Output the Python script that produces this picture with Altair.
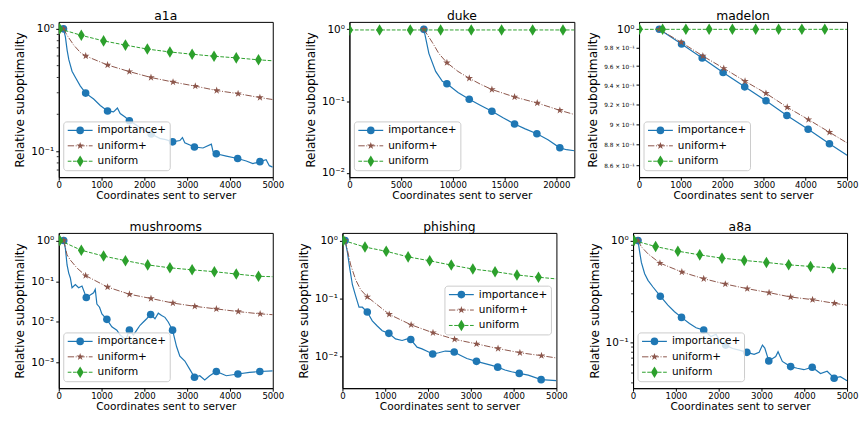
import math
import pandas as pd
import altair as alt

FONT = "DejaVu Sans"
NAMES = ["importance+", "uniform+", "uniform"]
COLORS = ["#1f77b4", "#8c564b", "#2ca02c"]

# ---------------- data ----------------
# a1a
A1A_IMP_X = [110, 155, 195, 235, 310, 390, 505, 628, 815, 970, 1140, 1280, 1370, 1435, 1550, 1650, 1820, 1980, 2160, 2360, 2500, 2660, 2830, 2890, 2945, 3170, 3370, 3565, 3605, 3680, 3915, 4180, 4380, 4535, 4700, 4845, 4920, 5000]
A1A_IMP_Y = [1.0, 0.86, 0.67, 0.56, 0.45, 0.40, 0.34, 0.298, 0.267, 0.236, 0.213, 0.209, 0.225, 0.203, 0.19, 0.177, 0.163, 0.149, 0.138, 0.127, 0.124, 0.119, 0.122, 0.129, 0.117, 0.108, 0.106, 0.114, 0.099, 0.095, 0.091, 0.087, 0.083, 0.079, 0.082, 0.085, 0.076, 0.074]
A1A_IMP_M = [110, 628, 1140, 1650, 2160, 2660, 3170, 3680, 4180, 4700]
A1A_UP_X = [110, 195, 350, 505, 630, 1140, 1650, 2155, 2670, 3190, 3690, 4190, 4700, 5000]
A1A_UP_Y = [1.0, 0.885, 0.736, 0.64, 0.60, 0.506, 0.447, 0.40, 0.367, 0.34, 0.313, 0.295, 0.274, 0.264]
A1A_UP_M = [110, 630, 1140, 1650, 2155, 2670, 3190, 3690, 4190, 4700]
A1A_U_X = [20, 527, 1047, 1558, 2070, 2597, 3116, 3628, 4147, 4667, 5000]
A1A_U_Y = [1.0, 0.885, 0.797, 0.736, 0.683, 0.647, 0.62, 0.597, 0.579, 0.558, 0.548]
A1A_U_M = [20, 527, 1047, 1558, 2070, 2597, 3116, 3628, 4147, 4667]

# duke
DUKE_IMP_X = [7200, 7690, 8340, 8990, 9430, 10500, 11590, 12700, 13780, 14900, 15970, 17000, 18130, 19200, 20350, 21000, 21750]
DUKE_IMP_Y = [1.0, 0.459, 0.259, 0.189, 0.174, 0.132, 0.106, 0.087, 0.072, 0.058, 0.048, 0.041, 0.035, 0.029, 0.0223, 0.021, 0.0203]
DUKE_IMP_M = [7200, 9430, 11590, 13780, 15970, 18130, 20350]
DUKE_UP_X = [7200, 8010, 8660, 9430, 10500, 11590, 12700, 13780, 15970, 18160, 20350, 21750]
DUKE_UP_Y = [1.0, 0.66, 0.458, 0.343, 0.259, 0.208, 0.171, 0.145, 0.114, 0.094, 0.0743, 0.065]
DUKE_UP_M = [7200, 9430, 11590, 13780, 15970, 18160, 20350]
DUKE_U_X = [20, 2918, 5884, 8818, 11784, 14717, 17716, 20650, 21750]
DUKE_U_Y = [0.98, 0.98, 0.98, 0.98, 0.98, 0.98, 0.98, 0.98, 0.98]
DUKE_U_M = [20, 2918, 5884, 8818, 11784, 14717, 17716, 20650]

# madelon
MAD_IMP_X = [487, 1022, 1518, 2021, 2540, 3051, 3554, 4065, 4577, 5000]
MAD_IMP_Y = [1.0, 0.9839, 0.9687, 0.9532, 0.9381, 0.9237, 0.9088, 0.8949, 0.8806, 0.8694]
MAD_IMP_M = [487, 1022, 1518, 2021, 2540, 3051, 3554, 4065, 4577]
MAD_UP_X = [487, 1014, 1534, 2037, 2548, 3051, 3562, 4073, 4577, 5000]
MAD_UP_Y = [1.0, 0.9857, 0.9708, 0.9576, 0.944, 0.9314, 0.9171, 0.9046, 0.892, 0.8815]
MAD_UP_M = [487, 1014, 1534, 2037, 2548, 3051, 3562, 4073, 4577]
MAD_U_X = [10, 567, 1126, 1685, 2244, 2804, 3355, 3914, 4465, 5000]
MAD_U_Y = [1.0, 1.0, 1.0, 1.0, 1.0, 1.0, 1.0, 1.0, 1.0, 1.0]
MAD_U_M = [10, 567, 1126, 1685, 2244, 2804, 3355, 3914, 4465]

# mushrooms
MUS_IMP_X = [116, 155, 194, 233, 271, 310, 388, 465, 543, 643, 736, 814, 853, 891, 953, 1008, 1124, 1240, 1357, 1434, 1527, 1550, 1651, 1744, 1822, 1899, 1977, 2054, 2147, 2248, 2326, 2403, 2481, 2558, 2659, 2752, 2829, 2946, 3062, 3171, 3295, 3411, 3527, 3682, 3915, 4186, 4457, 4698, 5000]
MUS_IMP_Y = [1.0, 0.63, 0.25, 0.158, 0.12, 0.069, 0.083, 0.069, 0.076, 0.04, 0.046, 0.052, 0.063, 0.0275, 0.023, 0.0158, 0.0116, 0.0076, 0.0063, 0.0048, 0.004, 0.0033, 0.0063, 0.0048, 0.0063, 0.0083, 0.01, 0.012, 0.0153, 0.012, 0.0164, 0.0145, 0.013, 0.01, 0.0063, 0.0025, 0.00145, 0.0011, 0.00069, 0.00044, 0.00048, 0.00038, 0.00048, 0.00061, 0.00048, 0.00053, 0.00058, 0.00061, 0.00063]
MUS_IMP_M = [116, 643, 1124, 1651, 2147, 2659, 3171, 3682, 4186, 4698]
MUS_UP_X = [116, 194, 271, 426, 628, 1140, 1651, 2155, 2667, 3178, 3682, 4194, 4705, 5000]
MUS_UP_Y = [1.0, 0.44, 0.33, 0.21, 0.137, 0.0718, 0.0479, 0.0377, 0.0291, 0.0242, 0.0209, 0.018, 0.0158, 0.0151]
MUS_UP_M = [116, 628, 1140, 1651, 2155, 2667, 3178, 3682, 4194, 4705]
MUS_U_X = [23, 527, 1047, 1558, 2078, 2597, 3116, 3636, 4147, 4667, 5000]
MUS_U_Y = [1.0, 0.575, 0.413, 0.319, 0.251, 0.213, 0.19, 0.171, 0.15, 0.132, 0.129]
MUS_U_M = [23, 527, 1047, 1558, 2078, 2597, 3116, 3636, 4147, 4667]

# phishing
PHI_IMP_X = [62, 116, 171, 233, 310, 388, 465, 581, 698, 814, 930, 1085, 1240, 1395, 1512, 1597, 1744, 1860, 2016, 2109, 2248, 2403, 2519, 2612, 2752, 2907, 3132, 3333, 3488, 3628, 3798, 3953, 4132, 4341, 4643, 5000]
PHI_IMP_Y = [1.0, 0.63, 0.33, 0.173, 0.11, 0.071, 0.071, 0.0587, 0.0413, 0.0337, 0.028, 0.0252, 0.0202, 0.019, 0.0202, 0.0197, 0.0146, 0.0136, 0.012, 0.0111, 0.0117, 0.0125, 0.0123, 0.012, 0.0106, 0.0093, 0.0083, 0.0076, 0.0071, 0.0066, 0.0059, 0.0055, 0.00515, 0.0048, 0.00402, 0.00387]
PHI_IMP_M = [62, 581, 1085, 1597, 2109, 2612, 3132, 3628, 4132, 4643]
PHI_UP_X = [62, 116, 194, 310, 426, 581, 1093, 1605, 2116, 2620, 3132, 3636, 4147, 4651, 5000]
PHI_UP_Y = [1.0, 0.68, 0.377, 0.21, 0.142, 0.107, 0.0536, 0.0353, 0.0258, 0.0199, 0.0166, 0.0138, 0.0117, 0.0104, 0.0095]
PHI_UP_M = [62, 581, 1093, 1605, 2116, 2620, 3132, 3636, 4147, 4651]
PHI_U_X = [23, 527, 1023, 1535, 2039, 2543, 3047, 3566, 4078, 4581, 5000]
PHI_U_Y = [1.0, 0.77, 0.651, 0.522, 0.447, 0.377, 0.322, 0.29, 0.255, 0.233, 0.218]
PHI_U_M = [23, 527, 1023, 1535, 2039, 2543, 3047, 3566, 4078, 4581]

# a8a
A8A_IMP_X = [116, 155, 194, 271, 349, 465, 636, 814, 969, 1132, 1318, 1473, 1651, 1822, 1938, 2054, 2163, 2326, 2481, 2659, 2829, 2946, 3023, 3078, 3171, 3333, 3388, 3488, 3682, 3837, 3992, 4186, 4380, 4535, 4698, 4845, 5000]
A8A_IMP_Y = [1.0, 0.77, 0.61, 0.472, 0.407, 0.35, 0.284, 0.232, 0.2, 0.176, 0.153, 0.139, 0.132, 0.114, 0.12, 0.1, 0.094, 0.087, 0.084, 0.0798, 0.0764, 0.08, 0.094, 0.088, 0.0658, 0.0725, 0.081, 0.065, 0.0578, 0.0557, 0.0539, 0.057, 0.0494, 0.052, 0.0445, 0.046, 0.0419]
A8A_IMP_M = [116, 636, 1132, 1651, 2163, 2659, 3171, 3682, 4186, 4698]
A8A_UP_X = [116, 194, 349, 628, 1140, 1651, 2155, 2667, 3178, 3682, 4194, 4705, 5000]
A8A_UP_Y = [1.0, 0.87, 0.741, 0.601, 0.491, 0.422, 0.374, 0.337, 0.308, 0.279, 0.263, 0.242, 0.232]
A8A_UP_M = [116, 628, 1140, 1651, 2155, 2667, 3178, 3682, 4194, 4705]
A8A_U_X = [23, 527, 1047, 1558, 2078, 2597, 3116, 3636, 4147, 4667, 5000]
A8A_U_Y = [1.0, 0.874, 0.787, 0.724, 0.672, 0.638, 0.61, 0.578, 0.557, 0.537, 0.528]
A8A_U_M = [23, 527, 1047, 1558, 2078, 2597, 3116, 3636, 4147, 4667]

# axis ticks
X_TICKS_5K = [0, 1000, 2000, 3000, 4000, 5000]
X_TICKS_DUKE = [0, 5000, 10000, 15000, 20000]
SUP = {0: "10\u2070", -1: "10\u207b\u00b9", -2: "10\u207b\u00b2", -3: "10\u207b\u00b3"}
MAD_TICKS = [0.86, 0.88, 0.90, 0.92, 0.94, 0.96, 0.98, 1.0]
MAD_LABELS = ["8.6 \u00d7 10\u207b\u00b9", "8.8 \u00d7 10\u207b\u00b9", "9 \u00d7 10\u207b\u00b9",
              "9.2 \u00d7 10\u207b\u00b9", "9.4 \u00d7 10\u207b\u00b9", "9.6 \u00d7 10\u207b\u00b9",
              "9.8 \u00d7 10\u207b\u00b9", "10\u2070"]
MINOR_A = [0.07, 0.08, 0.09, 0.2, 0.3, 0.4, 0.5, 0.6, 0.7, 0.8, 0.9]
MINOR_B = [0.04, 0.05, 0.06, 0.07, 0.08, 0.09, 0.2, 0.3, 0.4, 0.5, 0.6, 0.7, 0.8, 0.9]

# ---------------- styling helpers ----------------
def star_path():
    pts = []
    for k in range(10):
        ang = math.pi / 2 + k * math.pi / 5
        r = 1.0 if k % 2 == 0 else 0.382
        pts.append((r * math.cos(ang), -r * math.sin(ang)))
    return "M" + "L".join(f"{x:.3f},{y:.3f}" for x, y in pts) + "Z"

SHAPES = ["circle", star_path(), "M0,-1L0.6,0L0,1L-0.6,0Z"]
SIZES = [58, 62, 135]
DASHES = [None, [6.4, 1.6, 1.0, 1.6], [3.7, 1.6]]
LWS = [1.2, 1.0, 1.0]
LEG_W, LEG_H = 107, 49
ROW1_H, ROW2_H = 156, 156


def label_expr(vals, labels):
    expr = "''"
    for v, l in reversed(list(zip(vals, labels))):
        expr = f"abs(datum.value - {v}) < {v * 1e-4} ? '{l}' : ({expr})"
    return expr


def panel(title, w, h, xdom, xticks, ydom, yticks, ylabels, series, loc,
          small=False, minor=None):
    xs = alt.Scale(domain=xdom, nice=False, zero=False)
    ys = alt.Scale(type="log", domain=ydom, nice=False)
    xaxis = alt.Axis(values=xticks, format="d", title="Coordinates sent to server",
                     labelFlush=False, labelOverlap=False, grid=False,
                     tickSize=3, labelPadding=0, titlePadding=2,
                     labelFontSize=8.6, titleFontSize=10.6)
    yfs = {"condition": {"test": "datum.value > 0.999", "value": 10.5}, "value": 5.8} if small else 10.5
    yaxis = alt.Axis(values=yticks, labelExpr=label_expr(yticks, ylabels),
                     title="Relative suboptimality", labelFlush=False, labelOverlap=False,
                     grid=False, tickSize=3, labelPadding=2, titlePadding=4,
                     labelFontSize=yfs, titleFontSize=12.2)
    layers = []
    for i, (xv, yv, mk) in enumerate(series):
        df = pd.DataFrame({"x": xv, "y": yv})
        df["m"] = df["x"].isin(mk)
        enc = dict(x=alt.X("x:Q", scale=xs, axis=xaxis), y=alt.Y("y:Q", scale=ys, axis=yaxis))
        lk = dict(color=COLORS[i], strokeWidth=LWS[i], clip=True)
        if DASHES[i]:
            lk["strokeDash"] = DASHES[i]
        layers.append(alt.Chart(df).mark_line(**lk).encode(**enc))
        layers.append(alt.Chart(df).transform_filter("datum.m").mark_point(
            shape=SHAPES[i], size=SIZES[i], filled=True, color=COLORS[i],
            opacity=1, clip=True).encode(**enc))
    if minor:
        mdf = pd.DataFrame({"y": minor})
        layers.append(alt.Chart(mdf).mark_rule(color="black", strokeWidth=0.8).encode(
            y=alt.Y("y:Q", scale=ys, axis=yaxis), x=alt.value(-2), x2=alt.value(0)))
    # legend
    if loc == "lower left":
        bx, by = 5, h - 6.5 - LEG_H
    else:
        bx, by = w - 5 - LEG_W, (h - LEG_H) / 2
    one = pd.DataFrame({"k": [0]})
    layers.append(alt.Chart(one).mark_rect(fill="white", fillOpacity=0.8, stroke="#cccccc",
                                           strokeWidth=1, cornerRadius=3).encode(
        x=alt.value(bx), x2=alt.value(bx + LEG_W), y=alt.value(by), y2=alt.value(by + LEG_H)))
    for i, name in enumerate(NAMES):
        ry = by + 8.5 + 15.5 * i
        rk = dict(color=COLORS[i], strokeWidth=LWS[i])
        if DASHES[i]:
            rk["strokeDash"] = DASHES[i]
        layers.append(alt.Chart(one).mark_rule(**rk).encode(
            x=alt.value(bx + 4), x2=alt.value(bx + 29), y=alt.value(ry)))
        layers.append(alt.Chart(one).mark_point(shape=SHAPES[i], size=SIZES[i], filled=True,
                                                color=COLORS[i], opacity=1).encode(
            x=alt.value(bx + 16.5), y=alt.value(ry)))
        layers.append(alt.Chart(one).mark_text(text=name, align="left", baseline="middle",
                                               fontSize=10.5, font=FONT, color="black").encode(
            x=alt.value(bx + 34), y=alt.value(ry)))
    return alt.layer(*layers).properties(
        width=w, height=h,
        title=alt.TitleParams(text=title, fontSize=12.4, font=FONT, fontWeight="normal",
                              offset=0, color="black", anchor="middle"))


def spacer(w, h):
    return alt.Chart(pd.DataFrame({"k": [0]})).mark_point(opacity=0, size=1).encode(
        x=alt.value(1), y=alt.value(1)).properties(
        width=w, height=h, view=alt.ViewBackground(stroke="transparent"))


a1a = panel("a1a", 215, ROW1_H, [0, 5000], X_TICKS_5K, [0.0612, 1.14], [0.1, 1.0],
            [SUP[-1], SUP[0]],
            [(A1A_IMP_X, A1A_IMP_Y, A1A_IMP_M), (A1A_UP_X, A1A_UP_Y, A1A_UP_M), (A1A_U_X, A1A_U_Y, A1A_U_M)],
            "lower left", minor=MINOR_A)
duke = panel("duke", 226, ROW1_H, [0, 21750], X_TICKS_DUKE, [0.0087, 1.27], [0.01, 0.1, 1.0],
             [SUP[-2], SUP[-1], SUP[0]],
             [(DUKE_IMP_X, DUKE_IMP_Y, DUKE_IMP_M), (DUKE_UP_X, DUKE_UP_Y, DUKE_UP_M), (DUKE_U_X, DUKE_U_Y, DUKE_U_M)],
             "lower left")
mad = panel("madelon", 209, ROW1_H, [0, 5000], X_TICKS_5K, [0.8486, 1.0083], MAD_TICKS, MAD_LABELS,
            [(MAD_IMP_X, MAD_IMP_Y, MAD_IMP_M), (MAD_UP_X, MAD_UP_Y, MAD_UP_M), (MAD_U_X, MAD_U_Y, MAD_U_M)],
            "lower left", small=True)
mus = panel("mushrooms", 215, ROW2_H, [0, 5000], X_TICKS_5K, [0.000238, 1.53], [0.001, 0.01, 0.1, 1.0],
            [SUP[-3], SUP[-2], SUP[-1], SUP[0]],
            [(MUS_IMP_X, MUS_IMP_Y, MUS_IMP_M), (MUS_UP_X, MUS_UP_Y, MUS_UP_M), (MUS_U_X, MUS_U_Y, MUS_U_M)],
            "lower left")
phi = panel("phishing", 215, ROW2_H, [0, 5000], X_TICKS_5K, [0.00287, 1.35], [0.01, 0.1, 1.0],
            [SUP[-2], SUP[-1], SUP[0]],
            [(PHI_IMP_X, PHI_IMP_Y, PHI_IMP_M), (PHI_UP_X, PHI_UP_Y, PHI_UP_M), (PHI_U_X, PHI_U_Y, PHI_U_M)],
            "center right")
a8a = panel("a8a", 215, ROW2_H, [0, 5000], X_TICKS_5K, [0.0355, 1.19], [0.1, 1.0],
            [SUP[-1], SUP[0]],
            [(A8A_IMP_X, A8A_IMP_Y, A8A_IMP_M), (A8A_UP_X, A8A_UP_Y, A8A_UP_M), (A8A_U_X, A8A_U_Y, A8A_U_M)],
            "lower left", minor=MINOR_B)

row1 = alt.hconcat(a1a, spacer(77, ROW1_H), duke, spacer(65, ROW1_H), mad,
                   spacing=0, bounds="flush")
row2 = alt.hconcat(mus, spacer(70, ROW2_H), phi, spacer(77, ROW2_H), a8a,
                   spacing=0, bounds="flush")

chart = alt.vconcat(row1, row2, spacing=18).properties(
    padding={"left": 5, "top": 0, "right": 0, "bottom": 0}
).configure_view(
    stroke="black", strokeWidth=1
).configure_axis(
    labelFont=FONT, titleFont=FONT, labelColor="black", titleColor="black",
    tickColor="black", domainColor="black", titleFontWeight="normal"
)

chart.save("out.html", embed_options={"renderer": "svg", "actions": False})
